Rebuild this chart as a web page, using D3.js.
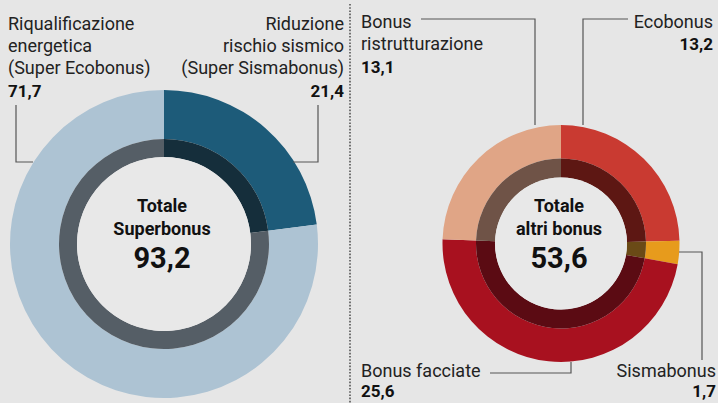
<!DOCTYPE html>
<html><head><meta charset="utf-8">
<script src="https://cdn.jsdelivr.net/npm/d3@7/dist/d3.min.js"></script>
<style>
html,body{margin:0;padding:0;background:#e6e6e6;}
svg{display:block;}
text{font-family:Roboto,"Noto Sans",sans-serif;fill:#222;}
</style></head><body>
<svg id="c" width="718" height="403"></svg>
<script>
// Data (miliardi di euro)
const superCategories = ["Riduzione rischio sismico (Super Sismabonus)", "Riqualificazione energetica (Super Ecobonus)"];
const superValues = [21.4, 71.7];
const superTotal = 93.2;
const altriCategories = ["Ecobonus", "Sismabonus", "Bonus facciate", "Bonus ristrutturazione"];
const altriValues = [13.2, 1.7, 25.6, 13.1];
const altriTotal = 53.6;

const superOuter = ["#1d5b79", "#adc3d3"];
const superInner = ["#152e3b", "#555e66"];
const altriOuter = ["#c93a31", "#e79b1c", "#a8111f", "#e0a586"];
const altriInner = ["#5d1713", "#6a4a16", "#5b0b13", "#6f5347"];

const fmt = v => d3.format(".1f")(v).replace(".", ",");
const svg = d3.select("#c");

// separator
svg.append("line").attr("x1",350).attr("x2",350).attr("y1",4).attr("y2",403)
  .attr("stroke","#555").attr("stroke-width",1.6).attr("stroke-dasharray","1.6,1.6");

function donut(cx, cy, R, r1, r0, values, outerCols, innerCols, t1, t2, total) {
  const g = svg.append("g").attr("transform", `translate(${cx},${cy})`);
  const pie = d3.pie().sort(null).value(d => d)(values);
  const outer = d3.arc().innerRadius(r1).outerRadius(R);
  const inner = d3.arc().innerRadius(r0).outerRadius(r1);
  g.selectAll(".o").data(pie).join("path").attr("d", outer).attr("fill", (d,i) => outerCols[i]);
  g.selectAll(".i").data(pie).join("path").attr("d", inner).attr("fill", (d,i) => innerCols[i]);
  g.append("circle").attr("r", r0).attr("fill", "#e8e8e8");
  const tg = g.append("g").attr("text-anchor","middle");
  tg.append("text").attr("x",-2).attr("y",-32).attr("font-weight",700).attr("font-size",18).style("fill","#111").text(t1);
  tg.append("text").attr("x",-2).attr("y",-9).attr("font-weight",700).attr("font-size",18).style("fill","#111").text(t2);
  tg.append("text").attr("x",-2).attr("y",24).attr("font-weight",700).attr("font-size",29).style("fill","#111").text(fmt(total));
}

donut(164, 244, 154, 105, 87, superValues, superOuter, superInner, "Totale", "Superbonus", superTotal);
donut(561, 243.5, 118.5, 85, 66, altriValues, altriOuter, altriInner, "Totale", "altri bonus", altriTotal);

function label(x, y, lines, value, anchor, gap) {
  const t = svg.append("g").attr("text-anchor", anchor);
  lines.forEach((l, i) => t.append("text").attr("x", x).attr("y", y + i*22).attr("font-size",18).text(l));
  t.append("text").attr("x", x).attr("y", y + (lines.length-1)*22 + gap).attr("font-size",17).attr("font-weight",700)
    .style("fill","#111").text(fmt(value));
}
label(8, 30, ["Riqualificazione","energetica","(Super Ecobonus)"], superValues[1], "start", 23);
label(344, 30, ["Riduzione","rischio sismico","(Super Sismabonus)"], superValues[0], "end", 23);
label(361, 28, ["Bonus","ristrutturazione"], altriValues[3], "start", 23);
label(713, 28, ["Ecobonus"], altriValues[0], "end", 22);
label(361, 377, ["Bonus facciate"], altriValues[2], "start", 20);
label(716, 377, ["Sismabonus"], altriValues[1], "end", 20);

// leader lines
const leaders = [
  [[16,105],[16,162],[33,162]],
  [[318,105],[318,162],[293,162]],
  [[421,19],[535,19],[535,125]],
  [[628,19],[583,19],[583,125]],
  [[490,373],[571,373],[571,362]],
  [[679,252],[702,252],[702,360]]
];
const line = d3.line();
svg.selectAll(".ld").data(leaders).join("path").attr("d", line)
  .attr("fill","none").attr("stroke","#555").attr("stroke-width",1.2);
</script>
</body></html>
